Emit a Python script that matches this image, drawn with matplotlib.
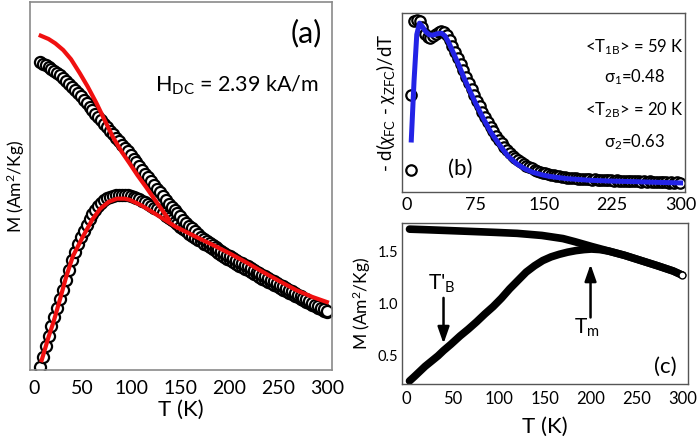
import numpy as np
import matplotlib
matplotlib.use("Agg")
import matplotlib.pyplot as plt

plt.rcParams["font.family"] = ["Lato", "DejaVu Sans"]
plt.rcParams["mathtext.fontset"] = "custom"
plt.rcParams["mathtext.rm"] = "Lato"
plt.rcParams["mathtext.it"] = "Lato:italic"
# deeper subscripts, as in the original figure
try:
    import matplotlib._mathtext as _mt
    _mt.FontConstantsBase.subdrop = 0.9
except Exception:
    pass

# ---- panel (a): FC / ZFC magnetisation (arb. units), circles = data, red = fit
T_a = np.arange(6, 301, 3)
M_fc = [0.837, 0.833, 0.829, 0.825, 0.819, 0.813, 0.807, 0.801, 0.795, 0.787,
        0.778, 0.770, 0.761, 0.753, 0.744, 0.734, 0.725, 0.716, 0.706, 0.697,
        0.688, 0.679, 0.669, 0.660, 0.651, 0.641, 0.632, 0.623, 0.613, 0.604,
        0.595, 0.585, 0.575, 0.565, 0.555, 0.544, 0.534, 0.524, 0.514, 0.504,
        0.493, 0.483, 0.473, 0.463, 0.452, 0.443, 0.435, 0.426, 0.418, 0.409,
        0.401, 0.393, 0.385, 0.377, 0.369, 0.363, 0.357, 0.351, 0.346, 0.340,
        0.335, 0.330, 0.325, 0.319, 0.314, 0.309, 0.304, 0.300, 0.295, 0.291,
        0.286, 0.282, 0.277, 0.273, 0.268, 0.264, 0.259, 0.255, 0.250, 0.246,
        0.241, 0.237, 0.232, 0.228, 0.223, 0.219, 0.214, 0.210, 0.205, 0.201,
        0.196, 0.192, 0.187, 0.183, 0.178, 0.174, 0.169, 0.165, 0.160]
M_zfc = [0.008, 0.035, 0.065, 0.094, 0.121, 0.145, 0.169, 0.193, 0.217, 0.244,
         0.271, 0.298, 0.322, 0.343, 0.362, 0.379, 0.395, 0.410, 0.424, 0.436,
         0.446, 0.455, 0.462, 0.467, 0.471, 0.474, 0.476, 0.477, 0.477, 0.476,
         0.475, 0.473, 0.470, 0.467, 0.464, 0.460, 0.456, 0.452, 0.447, 0.442,
         0.437, 0.432, 0.426, 0.420, 0.414, 0.408, 0.402, 0.396, 0.389, 0.383,
         0.377, 0.371, 0.365, 0.359, 0.353, 0.350, 0.344, 0.339, 0.334, 0.328,
         0.323, 0.318, 0.313, 0.308, 0.303, 0.298, 0.293, 0.289, 0.284, 0.280,
         0.275, 0.271, 0.266, 0.262, 0.258, 0.253, 0.249, 0.245, 0.240, 0.236,
         0.232, 0.228, 0.223, 0.219, 0.215, 0.211, 0.206, 0.202, 0.198, 0.194,
         0.190, 0.186, 0.182, 0.178, 0.174, 0.170, 0.166, 0.162, 0.158]

T_fit_fc = [7, 15, 22, 30, 38, 47, 55, 64, 72, 81, 90, 98, 106, 115, 122, 130, 138]
M_fit_fc = [0.909, 0.900, 0.888, 0.870, 0.845, 0.807, 0.771, 0.726, 0.682,
            0.633, 0.593, 0.562, 0.530, 0.497, 0.470, 0.440, 0.410]
T_fit_zfc = [8, 15, 20, 27, 33, 40, 50, 60, 68, 77, 85, 93, 98, 110, 120, 132,
             145, 167, 185, 200, 218, 235, 252, 269, 285, 300]
M_fit_zfc = [0.027, 0.090, 0.130, 0.195, 0.253, 0.310, 0.362, 0.410, 0.439,
             0.458, 0.466, 0.466, 0.463, 0.448, 0.432, 0.412, 0.390, 0.361,
             0.338, 0.318, 0.292, 0.266, 0.241, 0.217, 0.199, 0.185]

# ---- panel (b): -d(chi_FC - chi_ZFC)/dT (arb. units)
T_b_first = [5, 5]
D_b_first = [0.123, 0.54]
T_b = np.arange(8, 300, 3)
D_b = [0.955, 0.962, 0.955, 0.925, 0.885, 0.865, 0.862, 0.870, 0.885, 0.895,
       0.898, 0.893, 0.875, 0.848, 0.815, 0.782, 0.748, 0.714, 0.680, 0.645,
       0.610, 0.576, 0.543, 0.510, 0.478, 0.447, 0.418, 0.390, 0.363, 0.338,
       0.314, 0.292, 0.271, 0.252, 0.234, 0.218, 0.203, 0.189, 0.177, 0.165,
       0.155, 0.146, 0.138, 0.131, 0.124, 0.118, 0.112, 0.107, 0.103, 0.099,
       0.095, 0.092, 0.089, 0.086, 0.084, 0.082, 0.080, 0.078, 0.077, 0.075,
       0.074, 0.073, 0.072, 0.071, 0.070, 0.069, 0.070, 0.067, 0.068, 0.066,
       0.067, 0.064, 0.066, 0.063, 0.064, 0.062, 0.063, 0.060, 0.062, 0.059,
       0.061, 0.058, 0.060, 0.057, 0.059, 0.056, 0.058, 0.055, 0.057, 0.054,
       0.056, 0.053, 0.055, 0.052, 0.055, 0.052, 0.053, 0.051]
T_b_fit = [5, 8, 11, 14, 17, 21, 25, 29, 33, 38, 42, 46, 50, 57, 63, 70, 77,
           84, 92, 102, 111, 121, 130, 139, 150, 157, 175, 200, 225, 250, 275, 300]
D_b_fit = [0.29, 0.62, 0.88, 0.944, 0.925, 0.895, 0.878, 0.877, 0.884, 0.888,
           0.872, 0.835, 0.79, 0.71, 0.635, 0.555, 0.48, 0.41, 0.335, 0.26,
           0.20, 0.155, 0.127, 0.108, 0.093, 0.086, 0.074, 0.065, 0.060, 0.057,
           0.053, 0.050]

# ---- panel (c): M (Am^2/Kg)
T_c_fc = [3, 20, 50, 94, 120, 147, 170, 183, 201, 220, 237, 255, 273, 290, 300]
M_c_fc = [1.71, 1.705, 1.695, 1.68, 1.67, 1.65, 1.62, 1.59, 1.545, 1.50, 1.46,
          1.41, 1.36, 1.31, 1.27]
T_c_zfc = [3, 8, 14, 20, 27, 34, 40, 48, 58, 67, 76, 85, 94, 103, 112, 121,
           130, 139, 148, 157, 166, 175, 184, 193, 201, 210, 220, 237, 255,
           273, 290, 300]
M_c_zfc = [0.26, 0.30, 0.35, 0.40, 0.45, 0.50, 0.55, 0.61, 0.69, 0.755, 0.825,
           0.90, 0.97, 1.05, 1.14, 1.22, 1.30, 1.36, 1.41, 1.445, 1.47, 1.49,
           1.505, 1.515, 1.52, 1.515, 1.50, 1.46, 1.41, 1.36, 1.31, 1.27]

fig = plt.figure(figsize=(6.97, 4.37), dpi=100)

# panel (a)
ax_a = fig.add_axes([0.043, 0.153, 0.433, 0.842])
mk = dict(marker="o", ms=8, mfc="white", mec="black", mew=1.6, ls="none")
ax_a.plot(T_a, M_zfc, **mk)
ax_a.plot(T_a, M_fc, **mk)
ax_a.plot(T_fit_zfc, M_fit_zfc, color="#f01010", lw=3)
ax_a.plot(T_fit_fc, M_fit_fc, color="#f01010", lw=3)
ax_a.set_xlim(-4, 305)
ax_a.set_ylim(0, 1)
ax_a.set_yticks([])
ax_a.set_xticks([0, 50, 100, 150, 200, 250, 300])
ax_a.tick_params(axis="x", length=0, labelsize=14, pad=7)
ax_a.set_xlabel("T (K)", fontsize=16, labelpad=2)
ax_a.set_ylabel(r"M (Am$^2$/Kg)", fontsize=12.5, labelpad=2)
for s in ax_a.spines.values():
    s.set_color("#8a8a8a")
    s.set_linewidth(1.2)
ax_a.text(0.917, 0.916, "(a)", transform=ax_a.transAxes, fontsize=22,
          ha="center", va="center")
ax_a.text(0.686, 0.775, r"H$_{\rm DC}$ = 2.39 kA/m", transform=ax_a.transAxes,
          fontsize=15.5, ha="center", va="center")

# panel (b)
ax_b = fig.add_axes([0.577, 0.561, 0.406, 0.409])
mkb = dict(marker="o", ms=7.5, mfc="white", mec="black", mew=1.6, ls="none")
ax_b.plot(T_b_first, D_b_first, **mkb)
ax_b.plot(T_b, D_b, **mkb)
ax_b.plot(T_b_fit, D_b_fit, color="#2323e6", lw=3.6)
ax_b.set_xlim(-5, 305)
ax_b.set_ylim(0, 1)
ax_b.set_yticks([])
ax_b.set_xticks([0, 75, 150, 225, 300])
ax_b.tick_params(axis="x", length=0, labelsize=13, pad=4)
ax_b.set_ylabel(r"- d($\chi_{\rm FC}$ - $\chi_{\rm ZFC}$)/dT", fontsize=13.5,
                labelpad=4)
for s in ax_b.spines.values():
    s.set_color("#555555")
    s.set_linewidth(1.0)
for txt, yy in [(r"<T$_{\rm 1B}$> = 59 K", 0.81), ("σ$_1$=0.48", 0.642),
                (r"<T$_{\rm 2B}$> = 20 K", 0.458), ("σ$_2$=0.63", 0.28)]:
    ax_b.text(0.82, yy, txt, transform=ax_b.transAxes, fontsize=12,
              ha="center", va="center")
ax_b.text(0.205, 0.13, "(b)", transform=ax_b.transAxes, fontsize=16,
          ha="center", va="center")

# panel (c)
ax_c = fig.add_axes([0.577, 0.121, 0.410, 0.369])
ax_c.plot(T_c_zfc, M_c_zfc, color="black", lw=5.5, solid_capstyle="round")
ax_c.plot(T_c_fc, M_c_fc, color="black", lw=5.5, solid_capstyle="round")
ax_c.plot(T_c_fc[-1:], M_c_fc[-1:], marker="o", ms=5, mfc="white",
          mec="black", mew=1.0, ls="none")
ax_c.set_xlim(-5, 306)
ax_c.set_ylim(0.23, 1.77)
ax_c.set_xticks([0, 50, 100, 150, 200, 250, 300])
ax_c.set_yticks([0.5, 1.0, 1.5])
ax_c.tick_params(axis="x", length=0, labelsize=12, pad=5)
ax_c.tick_params(axis="y", length=0, labelsize=10.5, pad=3)
ax_c.set_xlabel("T (K)", fontsize=16, labelpad=7)
ax_c.set_ylabel(r"M (Am$^2$/Kg)", fontsize=12.5, labelpad=3)
for s in ax_c.spines.values():
    s.set_color("#555555")
    s.set_linewidth(1.0)
ax_c.annotate("", xy=(40, 0.59), xytext=(40, 1.08),
              arrowprops=dict(arrowstyle="-|>,head_width=0.35,head_length=1.0",
                              color="black", lw=1.8))
ax_c.annotate("", xy=(200, 1.40), xytext=(200, 0.84),
              arrowprops=dict(arrowstyle="-|>,head_width=0.35,head_length=1.0",
                              color="black", lw=1.8))
ax_c.text(38, 1.19, r"T'$_{\rm B}$", fontsize=15, ha="center", va="center")
ax_c.text(196, 0.77, r"T$_{\rm m}$", fontsize=15, ha="center", va="center")
ax_c.text(0.92, 0.11, "(c)", transform=ax_c.transAxes, fontsize=16,
          ha="center", va="center")

fig.savefig("out.png", dpi=100)
